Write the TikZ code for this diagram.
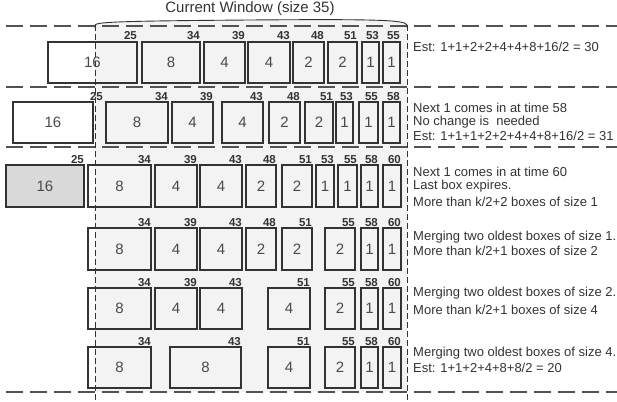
\documentclass[tikz,border=0pt]{standalone}
\usepackage{fontspec}
\setmainfont{Liberation Sans}
\definecolor{winfill}{HTML}{F3F3F3}
\definecolor{oldfill}{HTML}{D9D9D9}
\definecolor{ink}{HTML}{333333}
\definecolor{numc}{HTML}{4A4A4A}
\tikzset{
  boxst/.style={draw=ink,line width=1.4pt,inner sep=0pt,outer sep=0pt,
    font=\fontsize{15}{17}\selectfont,text=numc},
  labst/.style={inner sep=0pt,font=\fontsize{11.5}{12}\selectfont\bfseries,text=ink},
  txtst/.style={inner sep=0pt,anchor=west,font=\fontsize{13}{15}\selectfont,text=ink},
  hdash/.style={draw=ink!85,line width=1.1pt,dash pattern=on 17pt off 7pt},
  vdash/.style={draw=ink,line width=0.8pt,dash pattern=on 6pt off 3pt}
}
\newcommand\bx[7][]{\node[boxst,#1,minimum width={#4-#3},minimum height={#6-#5}] (#2) at ({(#3+#4)/2},{(#5+#6)/2}) {#7};}
\newcommand\lb[3]{\node[labst,anchor=base east] (#1) at ([yshift=2pt]#2.north east) {#3};}
\begin{document}
\begin{tikzpicture}[x=1pt,y=-1pt]
\useasboundingbox (0,0) rectangle (617,401);
% window area
\fill[winfill] (95,392) -- (95,25) .. controls (97,22) and (120,21) .. (250,20)
   .. controls (380,19) and (405,20) .. (407,25) -- (407,392) -- cycle;
\draw[ink,line width=0.9pt] (95,28) -- (95,25) .. controls (97,22) and (120,21) .. (250,20)
   .. controls (380,19) and (405,20) .. (407,25) -- (407,28);
\node[inner sep=0pt,font=\fontsize{15}{17}\selectfont,text=ink] (title) at (250,9) {Current Window (size 35)};
% horizontal dashed separators
\foreach \yy in {26,87,147,392} {\draw[hdash] (6,\yy) -- (617,\yy);}
% vertical window bounds
\draw[vdash] (95,25) -- (95,401);
\draw[vdash] (407,25) -- (407,401);
% row 1
\bx{a1}{48}{137}{42}{83}{16}
\bx{a2}{142}{200}{42}{83}{8}
\bx{a3}{204}{245}{42}{83}{4}
\bx{a4}{248}{290}{42}{83}{4}
\bx{a5}{293}{324}{42}{83}{2}
\bx{a6}{328}{357}{42}{83}{2}
\bx{a7}{362}{379}{42}{83}{1}
\bx{a8}{383}{400}{42}{83}{1}
\lb{la1}{a1}{25}\lb{la2}{a2}{34}\lb{la3}{a3}{39}\lb{la4}{a4}{43}
\lb{la5}{a5}{48}\lb{la6}{a6}{51}\lb{la7}{a7}{53}\lb{la8}{a8}{55}
\node[txtst] (t1) at (413,47) {Est: 1+1+2+2+4+4+8+16/2 = 30};
% row 2
\bx{b1}{13}{93}{102}{143}{16}
\bx{b2}{106}{168}{102}{143}{8}
\bx{b3}{172}{213}{102}{143}{4}
\bx{b4}{222}{263}{102}{143}{4}
\bx{b5}{269}{300}{102}{143}{2}
\bx{b6}{305}{333}{102}{143}{2}
\bx{b7}{336}{353}{102}{143}{1}
\bx{b8}{359}{378}{102}{143}{1}
\bx{b9}{383}{400}{102}{143}{1}
\node[labst,anchor=base east] (lb1) at ([xshift=10pt,yshift=2pt]b1.north east) {25};
\lb{lb2}{b2}{34}\lb{lb3}{b3}{39}\lb{lb4}{b4}{43}\lb{lb5}{b5}{48}
\lb{lb6}{b6}{51}\lb{lb7}{b7}{53}\lb{lb8}{b8}{55}\lb{lb9}{b9}{58}
\node[txtst] (t2a) at (413,108) {Next 1 comes in at time 58};
\node[txtst] (t2b) at (413,122) {No change is\ \ needed};
\node[txtst] (t2c) at (413,136) {Est: 1+1+1+2+2+4+4+8+16/2 = 31};
% row 3
\bx[fill=oldfill]{c1}{6}{84}{165}{207}{16}
\bx{c2}{88}{151}{165}{207}{8}
\bx{c3}{155}{197}{165}{207}{4}
\bx{c4}{200}{242}{165}{207}{4}
\bx{c5}{246}{276}{165}{207}{2}
\bx{c6}{282}{312}{165}{207}{2}
\bx{c7}{316}{334}{165}{207}{1}
\bx{c8}{338}{357}{165}{207}{1}
\bx{c9}{361}{378}{165}{207}{1}
\bx{c10}{383}{401}{165}{207}{1}
\lb{lc1}{c1}{25}\lb{lc2}{c2}{34}\lb{lc3}{c3}{39}\lb{lc4}{c4}{43}\lb{lc5}{c5}{48}
\lb{lc6}{c6}{51}\lb{lc7}{c7}{53}\lb{lc8}{c8}{55}\lb{lc9}{c9}{58}\lb{lc10}{c10}{60}
\node[txtst] (t3a) at (413,172) {Next 1 comes in at time 60};
\node[txtst] (t3b) at (413,186) {Last box expires.};
\node[txtst] (t3c) at (413,202) {More than k/2+2 boxes of size 1};
% row 4
\bx{d1}{88}{151}{228}{270}{8}
\bx{d2}{155}{197}{228}{270}{4}
\bx{d3}{200}{242}{228}{270}{4}
\bx{d4}{246}{276}{228}{270}{2}
\bx{d5}{282}{312}{228}{270}{2}
\bx{d6}{325}{355}{228}{270}{2}
\bx{d7}{361}{378}{228}{270}{1}
\bx{d8}{383}{401}{228}{270}{1}
\lb{ld1}{d1}{34}\lb{ld2}{d2}{39}\lb{ld3}{d3}{43}\lb{ld4}{d4}{48}
\lb{ld5}{d5}{51}\lb{ld6}{d6}{55}\lb{ld7}{d7}{58}\lb{ld8}{d8}{60}
\node[txtst] (t4a) at (413,237) {Merging two oldest boxes of size 1.};
\node[txtst] (t4b) at (413,251) {More than k/2+1 boxes of size 2};
% row 5
\bx{e1}{88}{151}{288}{329}{8}
\bx{e2}{155}{197}{288}{329}{4}
\bx{e3}{200}{242}{288}{329}{4}
\bx{e4}{268}{310}{288}{329}{4}
\bx{e5}{325}{355}{288}{329}{2}
\bx{e6}{361}{378}{288}{329}{1}
\bx{e7}{383}{401}{288}{329}{1}
\lb{le1}{e1}{34}\lb{le2}{e2}{39}\lb{le3}{e3}{43}\lb{le4}{e4}{51}
\lb{le5}{e5}{55}\lb{le6}{e6}{58}\lb{le7}{e7}{60}
\node[txtst] (t5a) at (413,293) {Merging two oldest boxes of size 2.};
\node[txtst] (t5b) at (413,310) {More than k/2+1 boxes of size 4};
% row 6
\bx{f1}{88}{151}{347}{388}{8}
\bx{f2}{170}{241}{347}{388}{8}
\bx{f3}{268}{310}{347}{388}{4}
\bx{f4}{325}{355}{347}{388}{2}
\bx{f5}{361}{378}{347}{388}{1}
\bx{f6}{383}{401}{347}{388}{1}
\lb{lf1}{f1}{34}\lb{lf2}{f2}{43}\lb{lf3}{f3}{51}
\lb{lf4}{f4}{55}\lb{lf5}{f5}{58}\lb{lf6}{f6}{60}
\node[txtst] (t6a) at (413,353) {Merging two oldest boxes of size 4.};
\node[txtst] (t6b) at (413,368) {Est: 1+1+2+4+8+8/2 = 20};
\end{tikzpicture}
\end{document}
